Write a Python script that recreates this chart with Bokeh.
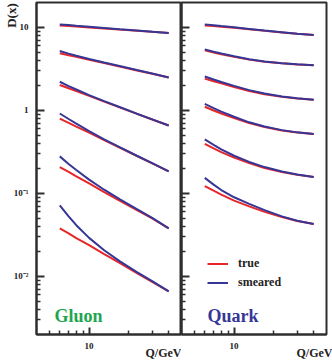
import numpy as np
from bokeh.plotting import figure
from bokeh.layouts import row
from bokeh.models import FixedTicker, Label, Legend, LegendItem
from bokeh.embed import file_html
from bokeh.resources import INLINE

# ---------------- data ----------------
Q = [6, 7, 8, 10, 13, 17, 23, 30, 40]

gluon_true = [
    [10.6, 10.45, 10.3, 10.0, 9.73, 9.44, 9.14, 8.87, 8.6],
    [4.9, 4.63, 4.43, 4.08, 3.72, 3.39, 3.04, 2.77, 2.5],
    [2.03, 1.85, 1.71, 1.50, 1.28, 1.09, 0.91, 0.78, 0.66],
    [0.80, 0.71, 0.64, 0.54, 0.44, 0.358, 0.283, 0.231, 0.185],
    [0.208, 0.182, 0.161, 0.132, 0.104, 0.082, 0.063, 0.050, 0.038],
    [0.038, 0.033, 0.029, 0.0238, 0.0186, 0.0146, 0.011, 0.0086, 0.0066],
]
gluon_smeared = [
    [10.9, 10.7, 10.5, 10.2, 9.85, 9.5, 9.18, 8.9, 8.6],
    [5.2, 4.84, 4.57, 4.17, 3.78, 3.43, 3.07, 2.79, 2.5],
    [2.22, 1.97, 1.79, 1.53, 1.295, 1.10, 0.915, 0.782, 0.66],
    [0.92, 0.79, 0.695, 0.565, 0.45, 0.362, 0.285, 0.232, 0.185],
    [0.28, 0.227, 0.192, 0.147, 0.111, 0.0853, 0.0646, 0.0509, 0.038],
    [0.072, 0.053, 0.0415, 0.0292, 0.0207, 0.0153, 0.0113, 0.0088, 0.0066],
]
quark_true = [
    [10.6, 10.4, 10.2, 9.9, 9.5, 9.12, 8.73, 8.41, 8.1],
    [5.3, 5.0, 4.75, 4.43, 4.1, 3.87, 3.7, 3.59, 3.5],
    [2.42, 2.25, 2.12, 1.92, 1.72, 1.57, 1.46, 1.39, 1.35],
    [1.11, 1.0, 0.92, 0.81, 0.705, 0.63, 0.575, 0.543, 0.52],
    [0.397, 0.35, 0.315, 0.27, 0.232, 0.203, 0.181, 0.168, 0.158],
    [0.123, 0.108, 0.097, 0.082, 0.070, 0.060, 0.052, 0.0465, 0.043],
]
quark_smeared = [
    [10.9, 10.65, 10.4, 10.05, 9.62, 9.2, 8.78, 8.43, 8.1],
    [5.45, 5.1, 4.85, 4.5, 4.15, 3.9, 3.72, 3.6, 3.5],
    [2.57, 2.36, 2.2, 1.98, 1.76, 1.6, 1.47, 1.4, 1.35],
    [1.2, 1.07, 0.97, 0.84, 0.72, 0.64, 0.58, 0.545, 0.52],
    [0.448, 0.385, 0.34, 0.285, 0.24, 0.208, 0.184, 0.169, 0.158],
    [0.154, 0.128, 0.11, 0.09, 0.075, 0.063, 0.053, 0.047, 0.043],
]

x_major = [10]
x_minor = [5, 6, 7, 8, 9, 20, 30, 40]
y_major = [0.01, 0.1, 1, 10]
y_minor = [0.003, 0.004, 0.005, 0.006, 0.007, 0.008, 0.009,
           0.02, 0.03, 0.04, 0.05, 0.06, 0.07, 0.08, 0.09,
           0.2, 0.3, 0.4, 0.5, 0.6, 0.7, 0.8, 0.9,
           2, 3, 4, 5, 6, 7, 8, 9]
y_labels = {0.01: "10⁻²", 0.1: "10⁻¹", 1: "1", 10: "10"}
x_labels = {10: "10"}

X_RANGE = (4, 50)
Y_RANGE = (0.002, 20)

RED = "#e8262a"
BLUE = "#363696"
GREEN = "#1ea64e"
FRAME = "#2e2e2e"
SERIF = "Liberation Serif"
NB = "\u00a0"  # padding so that an end-aligned (centred) axis label sits inside

FW_L, FW_R, FH = 146, 145, 333
TOP = 2


def qx(px, x0, fw):
    return X_RANGE[0] * (X_RANGE[1] / X_RANGE[0]) ** ((px - x0) / fw)


def dy(py):
    return Y_RANGE[1] * (Y_RANGE[0] / Y_RANGE[1]) ** ((py - TOP) / FH)


def make_fig(width, left, right, show_ylabels, xpad):
    p = figure(width=width, height=362, x_axis_type="log", y_axis_type="log",
               x_range=X_RANGE, y_range=Y_RANGE, output_backend="svg",
               toolbar_location=None, min_border_left=left, min_border_right=right,
               min_border_top=TOP, min_border_bottom=27)
    p.grid.visible = False
    p.outline_line_color = FRAME
    p.outline_line_width = 2
    p.background_fill_color = "white"
    p.border_fill_color = "white"
    for ax in (p.xaxis[0], p.yaxis[0]):
        ax.axis_line_color = FRAME
        ax.axis_line_width = 2
        ax.major_tick_line_color = FRAME
        ax.minor_tick_line_color = FRAME
        ax.major_tick_line_width = 2
        ax.minor_tick_line_width = 1.5
        ax.major_tick_out = 0
        ax.minor_tick_out = 0
        ax.minor_tick_in = 4
        ax.major_label_text_font = SERIF
        ax.major_label_text_font_style = "bold"
        ax.major_label_text_font_size = "9px"
        ax.major_label_text_color = "#222222"
        ax.axis_label_text_font = SERIF
        ax.axis_label_text_font_style = "bold"
        ax.axis_label_text_color = "#222222"
    xa = p.xaxis[0]
    xa.ticker = FixedTicker(ticks=x_major, minor_ticks=x_minor)
    xa.major_tick_in = 7
    xa.major_label_overrides = x_labels
    xa.major_label_standoff = 8
    xa.axis_label = "Q/GeV" + NB * xpad
    xa.axis_label_align = "end"
    xa.axis_label_standoff = -6
    xa.axis_label_text_font_size = "12px"
    ya = p.yaxis[0]
    ya.ticker = FixedTicker(ticks=y_major, minor_ticks=y_minor)
    ya.major_tick_in = 8
    if show_ylabels:
        ya.major_label_overrides = y_labels
        ya.major_label_standoff = 8
        ya.axis_label = "D(x)" + NB * 8
        ya.axis_label_align = "end"
        ya.axis_label_standoff = -8
        ya.axis_label_text_font_size = "13px"
    else:
        ya.major_label_overrides = {v: "" for v in y_major}
        ya.major_label_standoff = 0
        ya.major_label_text_font_size = "0px"
    return p


pL = make_fig(181, 35, 0, True, 12)
pR = make_fig(151, 0, 6, False, 8)

for vals in gluon_true:
    pL.line(Q, vals, line_color=RED, line_width=2)
for vals in gluon_smeared:
    pL.line(Q, vals, line_color=BLUE, line_width=2)

r_red = None
r_blue = None
for vals in quark_true:
    r = pR.line(Q, vals, line_color=RED, line_width=2)
    r_red = r_red or r
for vals in quark_smeared:
    r = pR.line(Q, vals, line_color=BLUE, line_width=2)
    r_blue = r_blue or r

legend = Legend(items=[LegendItem(label="true", renderers=[r_red]),
                       LegendItem(label="smeared", renderers=[r_blue])],
                location=(26, 42), border_line_color=None, background_fill_alpha=0,
                padding=0, margin=0, spacing=0, glyph_width=21, glyph_height=19,
                label_height=19, label_standoff=10, label_text_font=SERIF,
                label_text_font_style="bold", label_text_font_size="12px",
                label_text_color="#222222")
pR.add_layout(legend, "center")


def add_label(p, text, px, py, x0, fw, size, color="#222222"):
    p.add_layout(Label(x=qx(px, x0, fw), y=dy(py), text=text, text_font=SERIF,
                       text_font_style="bold", text_font_size=size, text_color=color,
                       text_align="left", text_baseline="alphabetic"))


add_label(pL, "Gluon", 53, 316.5, 35, FW_L, "18px", color=GREEN)
add_label(pR, "Quark", 207, 316.5, 181, FW_R, "18px", color=BLUE)

layout = row(pL, pR)

open("out.html", "w").write(file_html(layout, INLINE))
